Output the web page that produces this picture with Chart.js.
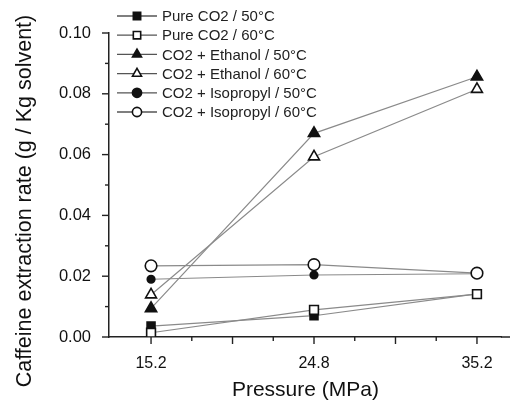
<!DOCTYPE html>
<html>
<head>
<meta charset="utf-8">
<script src="https://cdn.jsdelivr.net/npm/chart.js@4/dist/chart.umd.min.js"></script>
<style>
  html, body { margin: 0; padding: 0; background: #fff; }
  #wrap { width: 510px; height: 403px; }
</style>
</head>
<body>
<div id="wrap"><canvas id="chart" width="510" height="403"></canvas></div>
<script>
const pressures = ['15.2', '24.8', '35.2'];
const pureCO2_50 = [0.0036, 0.0070, 0.0142];
const pureCO2_60 = [0.0014, 0.0089, 0.0141];
const ethanol_50 = [0.0094, 0.0670, 0.0856];
const ethanol_60 = [0.0139, 0.0593, 0.0815];
const isopropyl_50 = [0.0190, 0.0204, 0.0208];
const isopropyl_60 = [0.0234, 0.0238, 0.0210];
const xTicks = [1, 1.25, 1.5, 1.75, 2, 2.25, 2.5, 2.75, 3];
const yTicks = [0, 0.01, 0.02, 0.03, 0.04, 0.05, 0.06, 0.07, 0.08, 0.09, 0.10];
const yTitle = 'Caffeine extraction rate (g / Kg solvent)';
const xTitle = 'Pressure (MPa)';

const FONT = '"Liberation Sans", Arial, sans-serif';
const LINE = '#8a8a8a';

function pts(values) {
  return values.map((v, i) => ({ x: i + 1, y: v }));
}

const seriesDefs = [
  { label: 'Pure CO2 / 50°C', data: pureCO2_50, style: 'rect', filled: true, r: 5.6 },
  { label: 'Pure CO2 / 60°C', data: pureCO2_60, style: 'rect', filled: false, r: 6.2 },
  { label: 'CO2 + Ethanol / 50°C', data: ethanol_50, style: 'triangle', filled: true, r: 6.5 },
  { label: 'CO2 + Ethanol / 60°C', data: ethanol_60, style: 'triangle', filled: false, r: 6.3 },
  { label: 'CO2 + Isopropyl / 50°C', data: isopropyl_50, style: 'circle', filled: true, r: 3.8 },
  { label: 'CO2 + Isopropyl / 60°C', data: isopropyl_60, style: 'circle', filled: false, r: 5.8 }
];

// open (60°C) markers sit on top of the filled ones
const datasets = seriesDefs.map(s => ({
  label: s.label,
  data: pts(s.data),
  order: s.filled ? 1 : 0,
  borderColor: LINE,
  borderWidth: 1.2,
  pointStyle: s.style,
  pointRadius: s.r,
  pointBorderColor: '#111',
  pointBorderWidth: 1.6,
  pointBackgroundColor: s.filled ? '#111' : '#fff',
  tension: 0,
  fill: false
}));

// draws a marker like the plot's points (used in legend)
function marker(ctx, style, x, y, r, filled) {
  ctx.save();
  ctx.beginPath();
  if (style === 'rect') {
    const h = r * Math.SQRT1_2;
    ctx.rect(x - h, y - h, 2 * h, 2 * h);
  } else if (style === 'triangle') {
    for (let k = 0; k < 3; k++) {
      const ang = -Math.PI / 2 + k * 2 * Math.PI / 3;
      const px = x + Math.cos(ang) * r, py = y + Math.sin(ang) * r;
      k === 0 ? ctx.moveTo(px, py) : ctx.lineTo(px, py);
    }
    ctx.closePath();
  } else {
    ctx.arc(x, y, r, 0, Math.PI * 2);
  }
  ctx.fillStyle = filled ? '#111' : '#fff';
  ctx.fill();
  ctx.lineWidth = 1.6;
  ctx.strokeStyle = '#111';
  ctx.stroke();
  ctx.restore();
}

const extras = {
  id: 'extras',
  afterDraw(chart) {
    const ctx = chart.ctx;
    const xs = chart.scales.x, ys = chart.scales.y;
    const area = chart.chartArea;
    ctx.save();
    ctx.strokeStyle = '#222';
    ctx.lineWidth = 1.5;
    // x axis runs on to the right edge
    ctx.beginPath();
    ctx.moveTo(area.right - 1, area.bottom);
    ctx.lineTo(chart.width, area.bottom);
    ctx.stroke();
    ctx.lineWidth = 1.4;
    // x ticks (major at half steps)
    xTicks.forEach(v => {
      const px = xs.getPixelForValue(v);
      const major = Math.abs(v * 2 - Math.round(v * 2)) < 1e-6;
      ctx.beginPath();
      ctx.moveTo(px, area.bottom);
      ctx.lineTo(px, area.bottom + (major ? 7 : 4));
      ctx.stroke();
    });
    // y ticks (major at labelled ones)
    yTicks.forEach(v => {
      const py = ys.getPixelForValue(v);
      const major = Math.round(v * 100) % 2 === 0;
      ctx.beginPath();
      ctx.moveTo(area.left, py);
      ctx.lineTo(area.left - (major ? 7 : 4), py);
      ctx.stroke();
    });
    // y title
    ctx.fillStyle = '#111';
    ctx.font = '21.5px ' + FONT;
    ctx.textAlign = 'center';
    ctx.textBaseline = 'middle';
    ctx.translate(25, 201);
    ctx.rotate(-Math.PI / 2);
    ctx.fillText(yTitle, 0, 0);
    ctx.restore();

    // legend
    ctx.save();
    ctx.font = '15px ' + FONT;
    ctx.textAlign = 'left';
    ctx.textBaseline = 'middle';
    seriesDefs.forEach((s, i) => {
      const y = 16 + i * 19.2;
      ctx.strokeStyle = '#555';
      ctx.lineWidth = 1.3;
      ctx.beginPath();
      ctx.moveTo(117, y);
      ctx.lineTo(157, y);
      ctx.stroke();
      marker(ctx, s.style, 137, y, s.style === 'circle' ? 4.6 : 5.2, s.filled);
      ctx.fillStyle = '#222';
      ctx.fillText(s.label, 162, y + 1);
    });
    ctx.restore();
  }
};

new Chart(document.getElementById('chart'), {
  type: 'line',
  data: { datasets },
  options: {
    responsive: false,
    animation: false,
    layout: { padding: { left: 0, top: 33, right: 0, bottom: 0 } },
    plugins: { legend: { display: false }, tooltip: { enabled: false } },
    scales: {
      x: {
        type: 'linear',
        min: 0.742,
        max: 3.153,
        afterBuildTicks: scale => { scale.ticks = xTicks.map(v => ({ value: v })); },
        afterFit: scale => { scale.height = 66; },
        grid: { display: false },
        border: { display: true, color: '#222', width: 1.5 },
        ticks: {
          autoSkip: false,
          maxRotation: 0,
          padding: 9,
          color: '#111',
          font: { family: FONT, size: 16 },
          callback: v => Number.isInteger(v) ? pressures[v - 1] : ''
        },
        title: {
          display: true,
          text: xTitle,
          color: '#111',
          font: { family: FONT, size: 21 },
          padding: { top: 7, bottom: 0 }
        }
      },
      y: {
        min: 0,
        max: 0.1,
        afterBuildTicks: scale => { scale.ticks = yTicks.map(v => ({ value: v })); },
        afterFit: scale => { scale.width = 109; },
        grid: { display: false },
        border: { display: true, color: '#222', width: 1.5 },
        ticks: {
          autoSkip: false,
          padding: 10,
          color: '#111',
          font: { family: FONT, size: 16.5 },
          callback: v => (Math.round(v * 100) % 2 === 0 ? v.toFixed(2) : '')
        }
      }
    }
  },
  plugins: [extras]
});
</script>
</body>
</html>
